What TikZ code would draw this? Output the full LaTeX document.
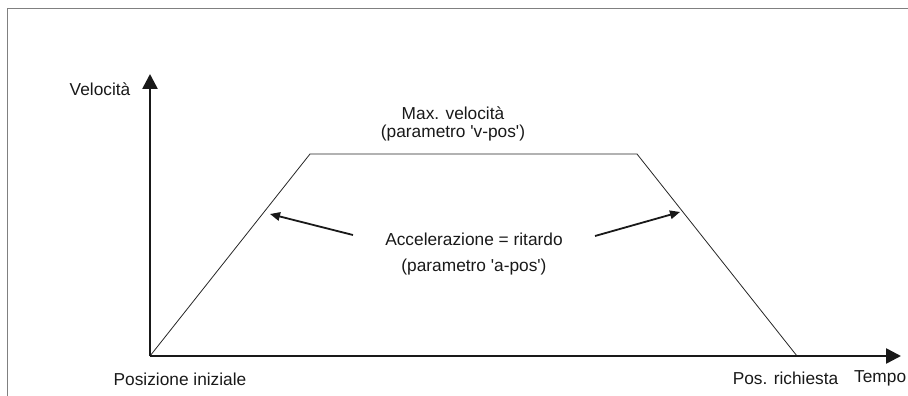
\documentclass[tikz,border=0pt]{standalone}
\usepackage{fontspec}
\setmainfont{Liberation Sans}
\usetikzlibrary{arrows.meta}
\begin{document}
\begin{tikzpicture}[x=1pt,y=-1pt,
  lbl/.style={inner sep=0pt, font=\fontsize{17.3}{20}\selectfont, text=black!90},
  axis/.style={line width=2.6pt, draw=black!90, -{Triangle[length=15pt,width=15pt]}},
  curve/.style={line width=0.8pt, draw=black!85},
  callout/.style={line width=1.8pt, draw=black!90, -{Triangle[length=10pt,width=8.5pt]}},
  frame/.style={line width=1.3pt, draw=black!50}]
\useasboundingbox (0,0) rectangle (908,396);
\draw[frame] (908,8.5) -- (7.5,8.5) -- (7.5,396);
\coordinate (O) at (150,356);
\coordinate (ytip) at (150,74);
\coordinate (xtip) at (901,356);
\coordinate (A) at (310,154);
\coordinate (B) at (637,154);
\coordinate (C) at (797,356);
\draw[curve] (O) -- (A) -- (B) -- (C);
\draw[axis] (O) -- (ytip);
\draw[axis] (O) -- (xtip);
\node[lbl] (vel) at (100,89) {Velocità};
\node[lbl] (max1) at (453,113) {Max. velocità};
\node[lbl] (max2) at (453,133) {(parametro \textquotesingle v-pos\textquotesingle)};
\node[lbl] (acc1) at (474,239) {Accelerazione = ritardo};
\node[lbl] (acc2) at (474,267) {(parametro \textquotesingle a-pos\textquotesingle)};
\node[lbl] (pi) at (180,379) {Posizione iniziale};
\node[lbl] (pr) at (785.5,378) {Pos. richiesta};
\node[lbl, anchor=west] (tm) at (854,378) {Tempo};
\coordinate (l1) at (353,235);
\coordinate (l2) at (270,214);
\coordinate (r1) at (595,236);
\coordinate (r2) at (680,212);
\draw[callout] (l1) -- (l2);
\draw[callout] (r1) -- (r2);
\end{tikzpicture}
\end{document}
